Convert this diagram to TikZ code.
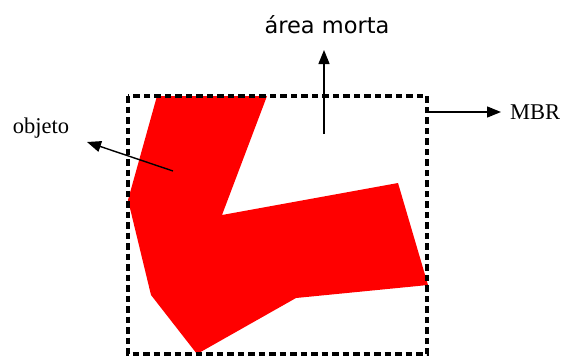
\documentclass[tikz,border=0pt]{standalone}
\usepackage{fontspec}
\setmainfont{Liberation Serif}
\newfontfamily\dejavu{DejaVu Sans}
\usetikzlibrary{arrows.meta}
\tikzset{
  lbl/.style={inner sep=0pt, anchor=center},
  ptr/.style={-{Triangle[length=14pt,width=11pt]}, line width=1.4pt, black},
  mbrline/.style={line width=3.2pt, dash pattern=on 6.5pt off 4pt, black},
}
\begin{document}
\begin{tikzpicture}[x=1pt,y=-1pt]
\useasboundingbox (0,0) rectangle (561,356);
% object polygon
\fill[red] (157,96) -- (267,96) -- (222,215) -- (398,183) -- (428,285) -- (296,298) -- (197,354) -- (151,295) -- (128,200) -- cycle;
% MBR
\draw[mbrline] (128,96) rectangle (427,354);
% labels
\node[lbl, font=\fontsize{22.5}{26}\selectfont] (obj) at (41,128) {objeto};
\node[lbl, font=\dejavu\fontsize{22.5}{26}\selectfont] (dead) at (327,25) {área morta};
\node[lbl, font=\fontsize{22.5}{26}\selectfont] (mbr) at (535,112) {MBR};
% arrows
\coordinate (objtail) at (173,171);
\coordinate (objtip) at (87,142);
\coordinate (deadtail) at (324,134);
\coordinate (deadtip) at (324,50);
\coordinate (mbrtail) at (429,112);
\coordinate (mbrtip) at (501,112);
\draw[ptr] (objtail) -- (objtip);
\draw[ptr] (deadtail) -- (deadtip);
\draw[ptr] (mbrtail) -- (mbrtip);
\end{tikzpicture}
\end{document}
